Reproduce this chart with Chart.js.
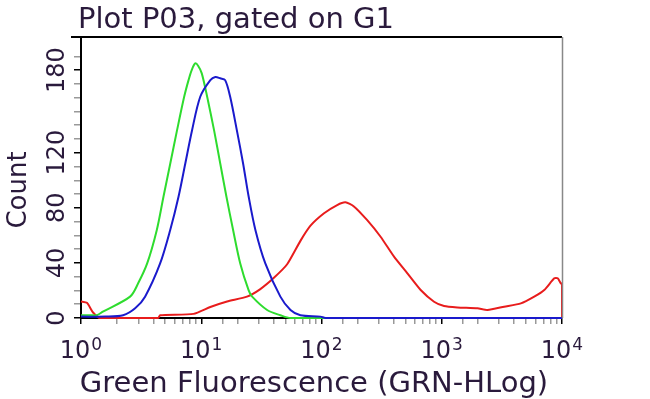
<!DOCTYPE html>
<html>
<head>
<meta charset="utf-8">
<script src="https://cdn.jsdelivr.net/npm/chart.js@4"></script>
<style>
  html, body { margin: 0; padding: 0; background: #fff; }
  #wrap { width: 650px; height: 399px; }
</style>
</head>
<body>
<div id="wrap"><canvas id="chart" width="650" height="399"></canvas></div>
<script>
// fluorescence channel (GRN-HLog) and counts
const blueFL    = [1, 1.6, 2.24, 2.82, 3.41, 4.55, 5.52, 6.47, 7.36, 8.37, 9.81, 11.9, 13.1, 14.4, 15.8, 17.4, 19.8, 22.3, 24.8, 28.2, 34.1, 45.5, 55.2, 66.8, 98, 108, 10000];
const blueCount = [1, 1, 2, 7, 15.5, 39.6, 63.9, 88, 112, 136, 160.6, 172.7, 175, 174, 172.7, 160.6, 136, 112, 88, 63.9, 39.6, 15.5, 5.8, 2, 1, 0, 0];

const greenFL    = [1, 1.2, 1.35, 1.52, 2.56, 2.98, 3.55, 4.27, 4.85, 5.52, 6.28, 7.21, 7.84, 8.33, 8.91, 9.44, 10.1, 11.2, 12.8, 14.4, 16.2, 18.4, 21.1, 24.8, 26.5, 35.3, 45.5, 55.2, 10000];
const greenCount = [2, 2, 2, 4.6, 15.5, 25, 39.6, 63.9, 88, 112, 136, 160.6, 172.7, 180, 184.8, 183, 177.6, 160.6, 136, 112, 88, 63.9, 39.6, 20, 15.5, 5.8, 2, 0, 0];

const redFL    = [1, 1.12, 1.26, 1.44, 4.38, 4.55, 8.63, 11.9, 16.4, 24.0, 31.0, 40.0, 51.8, 66.8, 81.0, 105, 135, 158, 186, 240, 310, 401, 518, 668, 863, 1045, 1352, 1983, 2402, 3305, 4550, 5875, 7123, 8630, 9204, 9810, 10000, 10000];
const redCount = [12, 11, 4, 0, 0, 2, 3, 8, 12, 15.5, 21, 29, 39, 56, 67, 76, 82, 84, 81, 71, 59, 44.5, 32.4, 20.3, 11.8, 8.7, 7.7, 7, 5.8, 8.2, 10.6, 15.5, 20.3, 28.8, 28.8, 25, 25, 0];

const xDecades = [1, 10, 100, 1000, 10000];
const xExponents = ['0', '1', '2', '3', '4'];
const yTickLabels = [0, 40, 80, 120, 180];

const textColor = '#2a1a3c';
const font = 'DejaVu Sans';

function pts(xs, ys) {
  return xs.map((x, i) => ({ x: x, y: ys[i] }));
}

const extras = {
  id: 'extras',
  afterDatasetsDraw(chart) {
    const { ctx, chartArea: a } = chart;
    ctx.save();
    // top and right frame
    ctx.strokeStyle = '#000';
    ctx.lineWidth = 2;
    ctx.beginPath();
    ctx.moveTo(a.left - 10, a.top);
    ctx.lineTo(a.right, a.top);
    ctx.stroke();
    ctx.strokeStyle = '#888';
    ctx.lineWidth = 1.5;
    ctx.beginPath();
    ctx.moveTo(a.right + 0.5, a.top);
    ctx.lineTo(a.right + 0.5, a.bottom);
    ctx.stroke();
    ctx.restore();
  },
  afterDraw(chart) {
    const ctx = chart.ctx;
    const xs = chart.scales.x;
    ctx.save();
    ctx.fillStyle = textColor;
    ctx.textBaseline = 'alphabetic';
    ctx.textAlign = 'left';

    ctx.font = '29px "' + font + '"';
    ctx.fillText('Plot P03, gated on G1', 78, 28);
    ctx.textAlign = 'center';
    ctx.fillText('Green Fluorescence (GRN-HLog)', 314, 392);

    // decade labels 10^n
    xDecades.forEach((v, i) => {
      const px = xs.getPixelForValue(v);
      ctx.font = '24px "' + font + '"';
      const wBase = ctx.measureText('10').width;
      ctx.font = '17px "' + font + '"';
      const wExp = ctx.measureText(xExponents[i]).width;
      const left = px - (wBase + wExp + 1) / 2;
      ctx.textAlign = 'left';
      ctx.font = '24px "' + font + '"';
      ctx.fillText('10', left, 358);
      ctx.font = '17px "' + font + '"';
      ctx.fillText(xExponents[i], left + wBase + 1, 350);
    });

    ctx.translate(26, 190);
    ctx.rotate(-Math.PI / 2);
    ctx.textAlign = 'center';
    ctx.font = '26px "' + font + '"';
    ctx.fillText('Count', 0, 0);
    ctx.restore();
  }
};

new Chart(document.getElementById('chart'), {
  type: 'line',
  data: {
    datasets: [
      { label: 'blue', data: pts(blueFL, blueCount), borderColor: '#1a1acc', borderWidth: 2, clip: false, tension: 0.3 },
      { label: 'green', data: pts(greenFL, greenCount), borderColor: '#2edc2e', borderWidth: 2, clip: false, tension: 0.3 },
      { label: 'red', data: pts(redFL, redCount), borderColor: '#e81c1c', borderWidth: 2, clip: false, tension: 0.2 }
    ]
  },
  options: {
    responsive: false,
    animation: false,
    events: [],
    layout: { padding: { top: 37, right: 88, left: 0, bottom: 0 } },
    elements: { point: { radius: 0 } },
    plugins: { legend: { display: false }, tooltip: { enabled: false }, title: { display: false } },
    scales: {
      x: {
        type: 'logarithmic',
        min: 1,
        max: 10000,
        afterFit(s) { s.height = 81; },
        border: { color: '#000', width: 2 },
        grid: {
          drawOnChartArea: false,
          tickLength: 6,
          tickColor: c => (xDecades.includes(c.tick.value) ? '#000' : '#999'),
          lineWidth: 1.5
        },
        ticks: {
          autoSkip: false,
          maxRotation: 0,
          callback: () => ''
        }
      },
      y: {
        min: 0,
        max: 204,
        afterFit(s) { s.width = 81; },
        border: { color: '#000', width: 2 },
        grid: {
          drawOnChartArea: false,
          tickLength: 7,
          tickColor: c => (yTickLabels.includes(c.tick.value) ? '#000' : '#999'),
          lineWidth: 1.5
        },
        ticks: {
          stepSize: 10,
          autoSkip: false,
          minRotation: 90,
          maxRotation: 90,
          crossAlign: 'center',
          padding: -7,
          color: textColor,
          font: { family: font, size: 24 },
          callback: v => (yTickLabels.includes(v) ? String(v) : '')
        }
      }
    }
  },
  plugins: [extras]
});
</script>
</body>
</html>
